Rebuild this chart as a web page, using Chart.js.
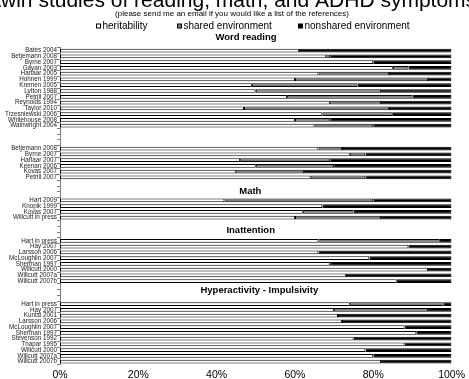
<!DOCTYPE html>
<html>
<head>
<meta charset="utf-8">
<script src="https://cdn.jsdelivr.net/npm/chart.js@4.4.0/dist/chart.umd.min.js"></script>
<style>
  html, body { margin: 0; padding: 0; background: #fff; }
  canvas { display: block; }
</style>
</head>
<body>
<canvas id="twinChart" width="469" height="379"></canvas>
<script>
// setup
const titleLine = 'twin studies of reading, math, and ADHD symptoms'; // first line is off the top
const subTitle = '(please send me an email if you would like a list of the references)';
const seriesNames = ['heritability', 'shared environment', 'nonshared environment'];

// one entry per block, the 2nd reading block has no heading
const groupTitles = ['Word reading', '', 'Math', 'Inattention', 'Hyperactivity - Impulsivity'];

const studyLabels = [
  ['Bates 2004', 'Betjemann 2008', 'Byrne 2007', 'Gayan 2003', 'Harlaar 2005', 'Hohnen 1999', 'Kremen 2005',
   'Lytton 1988', 'Petrill 2007', 'Reynolds 1994', 'Taylor 2010', 'Trzesniewski 2006', 'Whitehouse 2008', 'Wainwright 2004'],
  ['Betjemann 2008', 'Byrne 2007', 'Harlaar 2007', 'Keenan 2006', 'Kovas 2007', 'Petrill 2007'],
  ['Hart 2009', 'Knopik 1999', 'Kovas 2007', 'Willcutt in press'],
  ['Hart in press', 'Hay 2007', 'Larsson 2006', 'McLoughlin 2007', 'Sherman 1997', 'Willcutt 2000', 'Willcutt 2007a', 'Willcutt 2007b'],
  ['Hart in press', 'Hay 2007', 'Kuntsi 2001', 'Larsson 2006', 'McLoughlin 2007', 'Sherman 1997', 'Stevenson 1992',
   'Thapar 1995', 'Willcutt 2000', 'Willcutt 2007a', 'Willcutt 2007b']
];

// % of variance
const heritability = [
  [61, 68, 80, 85, 66, 60, 49, 50, 58, 69, 47, 67, 60, 65],
  [66, 74, 46, 50, 45, 64],
  [42, 67, 62, 60],
  [66, 89, 66, 79, 69, 94, 73, 86],
  [74, 70, 71, 72, 88, 91, 75, 88, 78, 80, 82]
];
const sharedEnv = [
  [0, 1, 0, 4, 18, 34, 27, 32, 32, 13, 37, 18, 9, 15],
  [6, 4, 23, 20, 17, 14],
  [38, 0, 13, 22],
  [31, 0, 0, 0, 0, 0, 0, 0],
  [24, 24, 0, 0, 0, 0, 0, 0, 0, 0, 0]
];
const nonsharedEnv = [
  [39, 31, 20, 11, 16, 6, 24, 18, 10, 18, 16, 15, 31, 20],
  [28, 22, 31, 30, 38, 22],
  [20, 33, 25, 18],
  [3, 11, 34, 21, 31, 6, 27, 14],
  [2, 6, 29, 28, 12, 9, 25, 12, 22, 20, 18]
];

const xTicks = [0, 20, 40, 60, 80, 100];

// flatten, 3 empty rows between blocks
const categories = [];
const hData = [], cData = [], eData = [];
const groupStart = [];
studyLabels.forEach((studies, g) => {
  if (g > 0) {
    for (let k = 0; k < 3; k++) {
      categories.push('');
      hData.push(null); cData.push(null); eData.push(null);
    }
  }
  groupStart.push(categories.length);
  studies.forEach((s, i) => {
    categories.push(s);
    hData.push(heritability[g][i]);
    cData.push(sharedEnv[g][i]);
    eData.push(nonsharedEnv[g][i]);
  });
});

const FONT = '"Liberation Sans", Arial, sans-serif';

// heading placement: rows above block start, x in %
const headRowOffset = [2.3, 0, 1.6, 1.75, 2.45];
const headX = [47.5, 0, 48.6, 48.7, 50.9];

const textPlugin = {
  id: 'textPlugin',
  afterDraw(chart) {
    const ctx = chart.ctx;
    const xs = chart.scales.x, ys = chart.scales.y;
    ctx.save();
    ctx.fillStyle = '#000';

    // main title (cut off at top like the original)
    ctx.font = '21px ' + FONT;
    ctx.textAlign = 'left';
    ctx.textBaseline = 'alphabetic';
    ctx.fillText(titleLine, -4.8, 7);

    ctx.font = '8px ' + FONT;
    ctx.textAlign = 'center';
    ctx.textBaseline = 'middle';
    ctx.fillText(subTitle, 232, 14);

    // legend
    const boxX = [96, 177, 298];
    const ly = 26;
    const ds = chart.data.datasets;
    ctx.font = '10px ' + FONT;
    ctx.textAlign = 'left';
    ds.forEach((d, i) => {
      ctx.fillStyle = '#000';
      ctx.fillRect(boxX[i], ly - 2.5, 5, 5);
      ctx.fillStyle = d.backgroundColor;
      ctx.fillRect(boxX[i] + 1, ly - 1.5, 3, 3);
      ctx.fillStyle = '#000';
      ctx.fillText(d.label, boxX[i] + 6.5, ly + 0.5);
    });

    // block headings
    ctx.font = 'bold 9.5px ' + FONT;
    ctx.textAlign = 'center';
    groupTitles.forEach((t, g) => {
      if (!t) return;
      const y = ys.getPixelForValue(groupStart[g] - headRowOffset[g]);
      ctx.fillText(t, xs.getPixelForValue(headX[g]), y);
    });
    ctx.restore();
  }
};

const barStyle = {
  borderColor: '#000',
  borderWidth: 1,
  borderSkipped: false,
  barPercentage: 0.65,
  categoryPercentage: 1
};

const data = {
  labels: categories,
  datasets: [
    { label: seriesNames[0], data: hData, backgroundColor: '#ffffff', ...barStyle },
    { label: seriesNames[1], data: cData, backgroundColor: '#808080', ...barStyle },
    { label: seriesNames[2], data: eData, backgroundColor: '#000000', ...barStyle }
  ]
};

const config = {
  type: 'bar',
  data,
  options: {
    indexAxis: 'y',
    responsive: false,
    animation: false,
    layout: { padding: { top: 47.8, right: 16, bottom: 0, left: 0 } },
    plugins: {
      legend: { display: false },
      tooltip: { enabled: false }
    },
    scales: {
      x: {
        stacked: true,
        min: 0,
        max: 100,
        afterBuildTicks: s => { s.ticks = xTicks.map(v => ({ value: v })); },
        afterFit: s => { s.height = 14.4; },
        ticks: {
          callback: v => v + '%',
          color: '#000',
          padding: 4,
          font: { family: FONT, size: 10.5 }
        },
        grid: { display: false, drawTicks: false },
        border: { display: false }
      },
      y: {
        stacked: true,
        afterFit: s => { s.width = 60; },
        ticks: {
          autoSkip: false,
          color: '#222',
          padding: 0,
          font: { family: FONT, size: 6.3 }
        },
        grid: {
          offset: true,
          drawOnChartArea: false,
          drawTicks: true,
          tickLength: 3,
          color: '#808080'
        },
        border: { color: '#808080' }
      }
    }
  },
  plugins: [textPlugin]
};

const twinChart = new Chart(document.getElementById('twinChart'), config);
</script>
</body>
</html>
